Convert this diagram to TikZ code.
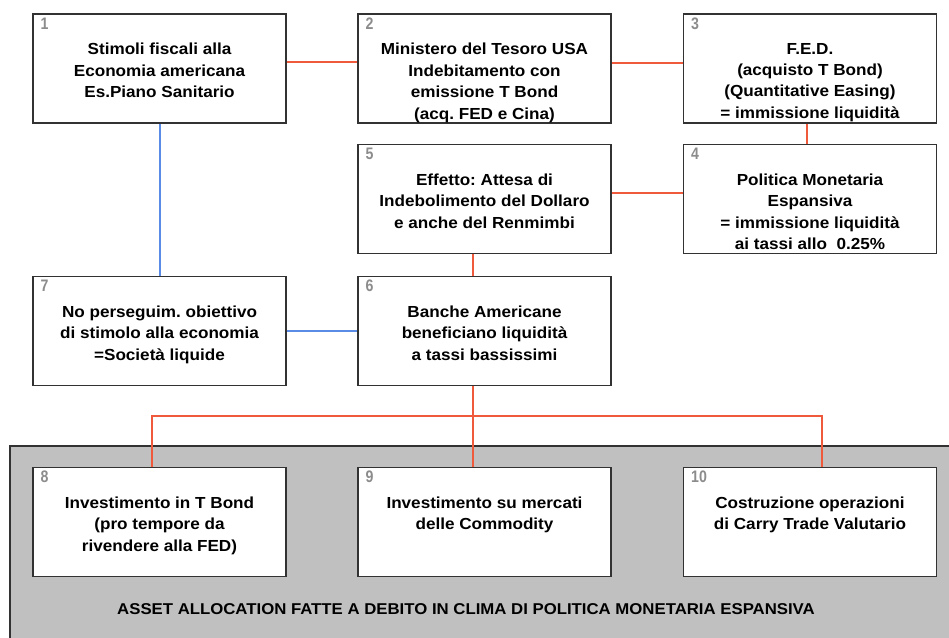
\documentclass[tikz,border=0pt]{standalone}
\usepackage{fontspec}
\setmainfont[FakeStretch=1.07]{Liberation Sans}
\newfontfamily\numfont[FakeStretch=0.85]{Liberation Sans}
\usetikzlibrary{positioning}
\frenchspacing

\definecolor{linkrosso}{RGB}{240,90,60}
\definecolor{linkblu}{RGB}{90,140,230}
\definecolor{fondo}{RGB}{192,192,192}
\definecolor{bordo}{RGB}{50,50,50}
\definecolor{numgrigio}{RGB}{140,140,140}

\def\blocco#1#2#3#4{
   \node[blocco] (#1) at (#2) {};
   \node[numero] (#1n) at ([xshift=6pt,yshift=-3pt]#1.north west) {#3};
   \node[testo] (#1t) at ([yshift=-22pt]#1.north) {#4};
}

\begin{document}
\begin{tikzpicture}[x=0.75pt, y=-0.75pt,
   blocco/.style={draw=bordo, line width=1.1pt, fill=white, minimum width=189.5pt, minimum height=81.5pt, inner sep=0pt},
   numero/.style={anchor=north west, inner sep=0pt, text=numgrigio, font=\numfont\fontsize{12.5}{14}\selectfont\bfseries},
   testo/.style={anchor=north, inner sep=0pt, align=center, font=\fontsize{12}{16.1}\selectfont\bfseries},
   linkr/.style={draw=linkrosso, line width=1.3pt},
   linkb/.style={draw=linkblu, line width=1.3pt}]
   \useasboundingbox (0,0) rectangle (949,637);
   %\draw[step=50,gray!30,very thin] (0,0) grid (949,637);
   \draw[draw=bordo, line width=1.1pt, fill=fondo] (10,446) rectangle (965,655);
   \blocco{b1}{159.5,68.5}{1}{Stimoli fiscali alla\\Economia americana\\Es.Piano Sanitario}
   \blocco{b2}{484.5,68.5}{2}{Ministero del Tesoro USA\\Indebitamento con\\emissione T Bond\\(acq. FED e Cina)}
   \blocco{b3}{810,68.5}{3}{F.E.D.\\(acquisto T Bond)\\(Quantitative Easing)\\= immissione liquidità}
   \blocco{b4}{810,199}{4}{Politica Monetaria\\Espansiva\\= immissione liquidità\\ai tassi allo\ \ 0.25\%}
   \blocco{b5}{484.5,199}{5}{Effetto: Attesa di\\Indebolimento del Dollaro\\e anche del Renmimbi}
   \blocco{b6}{484.5,331}{6}{Banche Americane\\beneficiano liquidità\\a tassi bassissimi}
   \blocco{b7}{159.5,331}{7}{No perseguim. obiettivo\\di stimolo alla economia\\=Società liquide}
   % collegamenti
   \draw[linkr] ([yshift=4.9pt]b1.east) -- ([yshift=4.9pt]b2.west);
   \draw[linkr] ([yshift=4.1pt]b2.east) -- ([yshift=4.1pt]b3.west);
   \draw[linkr] ([xshift=-2.25pt]b3.south) -- ([xshift=-2.25pt]b4.north);
   \draw[linkr] ([yshift=4.5pt]b5.east) -- ([yshift=4.5pt]b4.west);
   \draw[linkr] ([xshift=-8.625pt]b5.south) -- ([xshift=-8.625pt]b6.north);
   \draw[linkb] ([xshift=0.375pt]b1.south) -- ([xshift=0.375pt]b7.north);
   \draw[linkb] (b7.east) -- (b6.west);
   \coordinate (snodo) at ([xshift=-8.625pt]b6.south |- 0,416);
   \draw[linkr] ([xshift=-8.625pt]b6.south) -- ([xshift=-8.625pt]b6.south |- 0,467);
   \draw[linkr] (152,467) |- (snodo) -| (822,467);
   % asset allocation
   \blocco{b8}{159.5,522}{8}{Investimento in T Bond\\(pro tempore da\\rivendere alla FED)}
   \blocco{b9}{484.5,522}{9}{Investimento su mercati\\delle Commodity}
   \blocco{b10}{810,522}{10}{Costruzione operazioni\\di Carry Trade Valutario}
   \node[font=\fontsize{11.75}{14}\selectfont\bfseries, inner sep=0pt] (titolo) at (466,609)
      {ASSET ALLOCATION FATTE A DEBITO IN CLIMA DI POLITICA MONETARIA ESPANSIVA};
\end{tikzpicture}
\end{document}
